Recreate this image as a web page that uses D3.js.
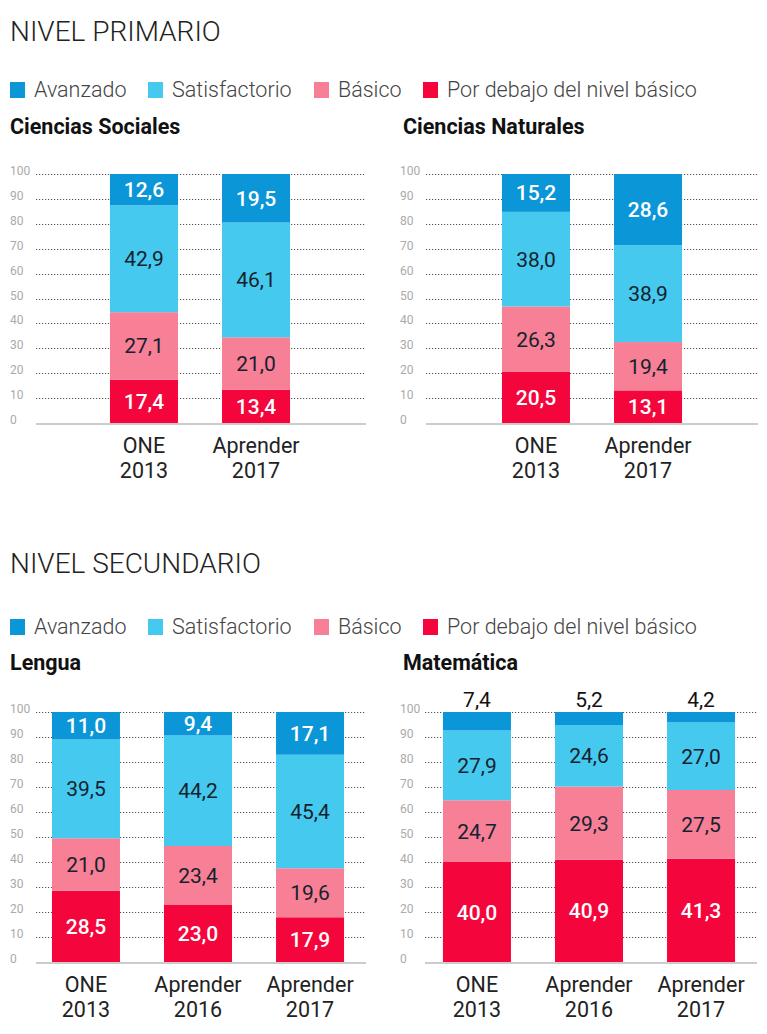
<!DOCTYPE html>
<html>
<head>
<meta charset="utf-8">
<script src="https://cdn.jsdelivr.net/npm/d3@7"></script>
<style>
  html, body { margin: 0; padding: 0; background: #fff; }
  svg { display: block; font-family: Roboto, "Noto Sans", sans-serif; }
</style>
</head>
<body>
<svg id="chart" width="767" height="1034"></svg>
<script>
// ---------- DATA ----------
const levels = ["Avanzado", "Satisfactorio", "Básico", "Por debajo del nivel básico"];
const yTicks = [0, 10, 20, 30, 40, 50, 60, 70, 80, 90, 100];

// Ciencias Sociales (primario)
const csCategories = ["ONE|2013", "Aprender|2017"];
const csPorDebajo = [17.4, 13.4];
const csBasico = [27.1, 21.0];
const csSatisfactorio = [42.9, 46.1];
const csAvanzado = [12.6, 19.5];

// Ciencias Naturales (primario)
const cnCategories = ["ONE|2013", "Aprender|2017"];
const cnPorDebajo = [20.5, 13.1];
const cnBasico = [26.3, 19.4];
const cnSatisfactorio = [38.0, 38.9];
const cnAvanzado = [15.2, 28.6];

// Lengua (secundario)
const lenCategories = ["ONE|2013", "Aprender|2016", "Aprender|2017"];
const lenPorDebajo = [28.5, 23.0, 17.9];
const lenBasico = [21.0, 23.4, 19.6];
const lenSatisfactorio = [39.5, 44.2, 45.4];
const lenAvanzado = [11.0, 9.4, 17.1];

// Matemática (secundario)
const matCategories = ["ONE|2013", "Aprender|2016", "Aprender|2017"];
const matPorDebajo = [40.0, 40.9, 41.3];
const matBasico = [24.7, 29.3, 27.5];
const matSatisfactorio = [27.9, 24.6, 27.0];
const matAvanzado = [7.4, 5.2, 4.2];

// ---------- STYLE ----------
const colors = {
  "Avanzado": "#0b96d8",
  "Satisfactorio": "#45c9ee",
  "Básico": "#f77f96",
  "Por debajo del nivel básico": "#f4053c"
};
const labelColors = {
  "Avanzado": "#ffffff",
  "Satisfactorio": "#15222e",
  "Básico": "#15222e",
  "Por debajo del nivel básico": "#ffffff"
};
const labelWeights = {
  "Avanzado": 500,
  "Satisfactorio": 400,
  "Básico": 400,
  "Por debajo del nivel básico": 500
};

const svg = d3.select("#chart");
const fmt = v => d3.format(".1f")(v).replace(".", ",");

function heading(text, y) {
  svg.append("text").attr("x", 10).attr("y", y)
    .attr("font-size", 28).attr("font-weight", 300).attr("fill", "#222")
    .text(text);
}

function legend(y) {
  const xs = [10, 148, 314, 423];
  levels.forEach((lv, i) => {
    svg.append("rect").attr("x", xs[i]).attr("y", y - 15).attr("width", 15).attr("height", 16)
      .attr("fill", colors[lv]);
    svg.append("text").attr("x", xs[i] + 24).attr("y", y)
      .attr("font-size", 21.5).attr("font-weight", 300).attr("fill", "#444")
      .text(lv);
  });
}

function panel(opts) {
  const { title, titleX, titleY, tickX, gridX0, gridX1, yRange, xRange, cats, series, aboveTop } = opts;
  const g = svg.append("g");
  g.append("text").attr("x", titleX).attr("y", titleY)
    .attr("font-size", 21.5).attr("font-weight", 700).attr("fill", "#111")
    .text(title);

  const y = d3.scaleLinear().domain([0, 100]).range(yRange);
  const x = d3.scaleBand().domain(cats).range(xRange).paddingInner(0.393).paddingOuter(0.196);

  // gridlines + tick labels
  yTicks.forEach(t => {
    if (t > 0) {
      g.append("line").attr("x1", gridX0).attr("x2", gridX1)
        .attr("y1", Math.round(y(t)) + 0.5).attr("y2", Math.round(y(t)) + 0.5)
        .attr("stroke", "#555").attr("stroke-width", 1.2).attr("stroke-dasharray", "1.2,1.8");
    }
    g.append("text").attr("x", tickX).attr("y", y(t) + 1)
      .attr("font-size", 12).attr("fill", "#aaa").text(t);
  });
  // baseline
  g.append("line").attr("x1", gridX0).attr("x2", gridX1)
    .attr("y1", y(0) + 1).attr("y2", y(0) + 1)
    .attr("stroke", "#ccc").attr("stroke-width", 2);

  // stacked data
  const order = ["Por debajo del nivel básico", "Básico", "Satisfactorio", "Avanzado"];
  const rows = cats.map((c, i) => {
    const r = { cat: c };
    order.forEach(k => r[k] = series[k][i]);
    return r;
  });
  const stacked = d3.stack().keys(order)(rows);

  stacked.forEach(layer => {
    const key = layer.key;
    layer.forEach(d => {
      const cat = d.data.cat;
      g.append("rect").attr("x", x(cat)).attr("width", x.bandwidth())
        .attr("y", y(d[1])).attr("height", y(d[0]) - y(d[1]))
        .attr("fill", colors[key]);
    });
  });
  stacked.forEach(layer => {
    const key = layer.key;
    layer.forEach(d => {
      const cat = d.data.cat;
      const v = d[1] - d[0];
      const isAbove = aboveTop && key === "Avanzado";
      g.append("text")
        .attr("x", x(cat) + x.bandwidth() / 2)
        .attr("y", isAbove ? y(d[1]) - 5 : (y(d[0]) + y(d[1])) / 2 + 7.5)
        .attr("text-anchor", "middle")
        .attr("font-size", 21)
        .attr("font-weight", isAbove ? 400 : labelWeights[key])
        .attr("fill", isAbove ? "#111" : labelColors[key])
        .text(fmt(v));
    });
  });

  // category labels
  cats.forEach(c => {
    const parts = c.split("|");
    parts.forEach((p, j) => {
      g.append("text").attr("x", x(c) + x.bandwidth() / 2)
        .attr("y", y(0) + 30 + j * 25)
        .attr("text-anchor", "middle").attr("font-size", 21.5).attr("fill", "#222")
        .text(p);
    });
  });
}

// ---------- DRAW ----------
heading("NIVEL PRIMARIO", 41);
legend(97);

panel({
  title: "Ciencias Sociales", titleX: 10, titleY: 134, tickX: 10,
  gridX0: 36, gridX1: 366, yRange: [423, 174], xRange: [88, 312],
  cats: csCategories,
  series: { "Por debajo del nivel básico": csPorDebajo, "Básico": csBasico, "Satisfactorio": csSatisfactorio, "Avanzado": csAvanzado }
});
panel({
  title: "Ciencias Naturales", titleX: 403, titleY: 134, tickX: 400,
  gridX0: 426, gridX1: 758, yRange: [423, 174], xRange: [480, 704],
  cats: cnCategories,
  series: { "Por debajo del nivel básico": cnPorDebajo, "Básico": cnBasico, "Satisfactorio": cnSatisfactorio, "Avanzado": cnAvanzado }
});

heading("NIVEL SECUNDARIO", 573);
legend(634);

panel({
  title: "Lengua", titleX: 10, titleY: 670, tickX: 10,
  gridX0: 36, gridX1: 366, yRange: [962, 712], xRange: [30, 366],
  cats: lenCategories,
  series: { "Por debajo del nivel básico": lenPorDebajo, "Básico": lenBasico, "Satisfactorio": lenSatisfactorio, "Avanzado": lenAvanzado }
});
panel({
  title: "Matemática", titleX: 403, titleY: 670, tickX: 400,
  gridX0: 425, gridX1: 757, yRange: [962, 712], xRange: [421, 757],
  cats: matCategories, aboveTop: true,
  series: { "Por debajo del nivel básico": matPorDebajo, "Básico": matBasico, "Satisfactorio": matSatisfactorio, "Avanzado": matAvanzado }
});
</script>
</body>
</html>
